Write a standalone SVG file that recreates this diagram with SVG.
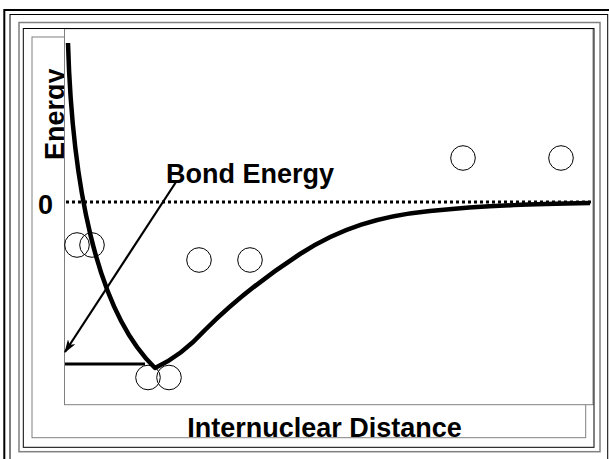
<svg xmlns="http://www.w3.org/2000/svg" width="609" height="459" viewBox="0 0 609 459">
<style>
.lbl{font-family:"Liberation Sans",Arial,sans-serif;font-weight:bold;font-size:27px;fill:#000}
.atom{fill:none;stroke:#000;stroke-width:1}
.gray{fill:none;stroke:#808080;stroke-width:1.5}
.blk{fill:none;stroke:#000;stroke-width:1}
</style>
<defs>
<marker id="ah" viewBox="0 0 12 8" refX="11" refY="4" markerWidth="6" markerHeight="4" orient="auto" markerUnits="strokeWidth">
<path d="M0,0 L12,4 L0,8 L3,4 Z" fill="#000"/>
</marker>
</defs>
<rect width="609" height="459" fill="#fff"/>
<g id="frames">
<rect x="4.3" y="10" width="620" height="470" fill="none" stroke="#000" stroke-width="2"/>
<rect x="10" y="14.5" width="597.7" height="460" class="blk"/>
<rect x="19" y="22.5" width="581" height="429.2" class="gray"/>
<rect x="32" y="37" width="553.7" height="400.7" class="gray" style="stroke-width:1"/>
</g>
<g id="y-label">
<text class="lbl" transform="translate(63.5,160) rotate(-90)">Energy</text>
</g>
<g id="plot-area">
<rect x="64.5" y="28.7" width="528.5" height="376" fill="#fff" stroke="#808080" stroke-width="1"/>
<rect x="23.3" y="28.5" width="570.7" height="418.8" class="blk"/>
</g>
<g id="zero-line">
<line x1="66" y1="202" x2="592" y2="202" stroke="#000" stroke-width="3" stroke-dasharray="3 3"/>
<text class="lbl" x="38" y="214">0</text>
</g>
<g id="atoms">
<circle class="atom" cx="77" cy="245" r="12.3"/>
<circle class="atom" cx="92" cy="245" r="12.3"/>
<circle class="atom" cx="199" cy="260" r="12.3"/>
<circle class="atom" cx="250" cy="260" r="12.3"/>
<circle class="atom" cx="148" cy="377.5" r="12.3"/>
<circle class="atom" cx="169" cy="377.5" r="12.3"/>
<circle class="atom" cx="463" cy="158" r="12.3"/>
<circle class="atom" cx="561" cy="158" r="12.3"/>
</g>
<g id="curve">
<path d="M68,43 C72,180 95,310 155,368 C168,362 185,352 205,330 C230,305 260,280 300,254 C340,228 380,216 430,211 C490,205 540,204 590,203" fill="none" stroke="#000" stroke-width="4.5" stroke-linejoin="round"/>
</g>
<g id="connectors">
<line x1="65" y1="364" x2="145" y2="364" stroke="#000" stroke-width="3"/>
<line x1="176" y1="182" x2="65" y2="352" stroke="#000" stroke-width="2.2" marker-end="url(#ah)"/>
</g>
<g id="bond-label">
<text class="lbl" x="166" y="183">Bond Energy</text>
</g>
<g id="x-label">
<text class="lbl" x="324.5" y="437" text-anchor="middle">Internuclear Distance</text>
</g>
</svg>
